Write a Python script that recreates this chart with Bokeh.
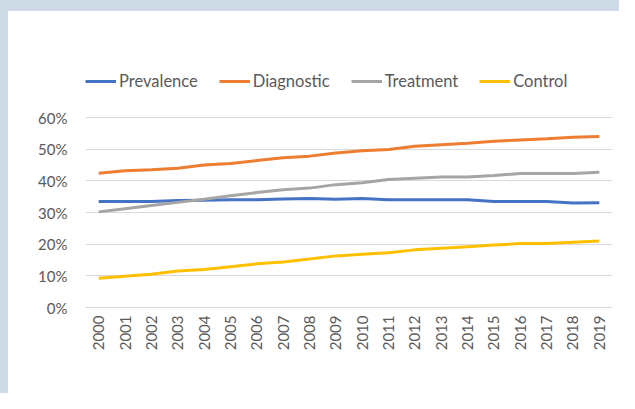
import math
from bokeh.plotting import figure
from bokeh.models import FactorRange, Range1d, Legend, LegendItem, NumeralTickFormatter, FixedTicker
from bokeh.embed import file_html
from bokeh.resources import INLINE

years = [str(y) for y in range(2000, 2020)]
prevalence = [0.335, 0.335, 0.335, 0.338, 0.339, 0.340, 0.340, 0.343, 0.344, 0.342, 0.344, 0.340,
              0.340, 0.340, 0.340, 0.335, 0.335, 0.335, 0.330, 0.331]
diagnostic = [0.424, 0.432, 0.435, 0.440, 0.450, 0.455, 0.464, 0.473, 0.478, 0.488, 0.495, 0.499,
              0.509, 0.514, 0.519, 0.525, 0.529, 0.533, 0.538, 0.540]
treatment = [0.302, 0.312, 0.322, 0.332, 0.342, 0.353, 0.363, 0.372, 0.377, 0.388, 0.394, 0.404,
             0.408, 0.412, 0.412, 0.417, 0.423, 0.423, 0.423, 0.427]
control = [0.092, 0.099, 0.105, 0.115, 0.120, 0.129, 0.138, 0.144, 0.153, 0.163, 0.168, 0.173,
           0.182, 0.187, 0.192, 0.197, 0.202, 0.202, 0.206, 0.210]
series_names = ["Prevalence", "Diagnostic", "Treatment", "Control"]
series_colors = ["#4472C4", "#ED7D31", "#A5A5A5", "#FFC000"]
y_ticks = [0, 0.1, 0.2, 0.3, 0.4, 0.5, 0.6]

FONT = "Lato"
TXT = "#595959"

# frame extends above the 60% line so the legend sits inside it (60% line at 190 px of 247)
p = figure(x_range=FactorRange(factors=years, range_padding=0), y_range=Range1d(0, 0.78),
           width=619, height=393, output_backend="svg", toolbar_location=None,
           min_border_left=85, min_border_right=7, min_border_top=60, min_border_bottom=86)
p.outline_line_color = None
p.background_fill_color = "white"
p.border_fill_color = None
p.styles = {"background-color": "white", "box-shadow": "inset 8px 11px 0 0 #CFDBE6"}

items = []
for name, col, vals in zip(series_names, series_colors, [prevalence, diagnostic, treatment, control]):
    r = p.line(years, vals, line_color=col, line_width=3)
    items.append(LegendItem(label=name, renderers=[r]))

leg = Legend(items=items, orientation="horizontal", location=(0, 216),
             label_text_font=FONT, label_text_font_size="16.5px", label_text_color=TXT,
             glyph_width=31, glyph_height=18, label_height=18, label_standoff=3, spacing=21,
             padding=0, margin=0, border_line_color=None, background_fill_alpha=0)
p.add_layout(leg, "center")

p.xgrid.grid_line_color = None
p.ygrid.grid_line_color = "#D9D9D9"
p.ygrid.grid_line_width = 1

p.yaxis.ticker = FixedTicker(ticks=y_ticks)
p.yaxis.formatter = NumeralTickFormatter(format="0%")
p.yaxis.axis_line_color = None
p.yaxis.major_tick_line_color = None
p.yaxis.minor_tick_line_color = None
p.yaxis.major_tick_out = 0
p.yaxis.major_label_standoff = 18

p.xaxis.axis_line_color = "#D9D9D9"
p.xaxis.major_tick_line_color = None
p.xaxis.major_tick_out = 0
p.xaxis.major_label_orientation = math.pi / 2
p.xaxis.major_label_standoff = 8

for ax in (p.xaxis, p.yaxis):
    ax.major_label_text_font = FONT
    ax.major_label_text_font_size = "15px"
    ax.major_label_text_color = TXT

open("out.html", "w").write(file_html(p, INLINE))
